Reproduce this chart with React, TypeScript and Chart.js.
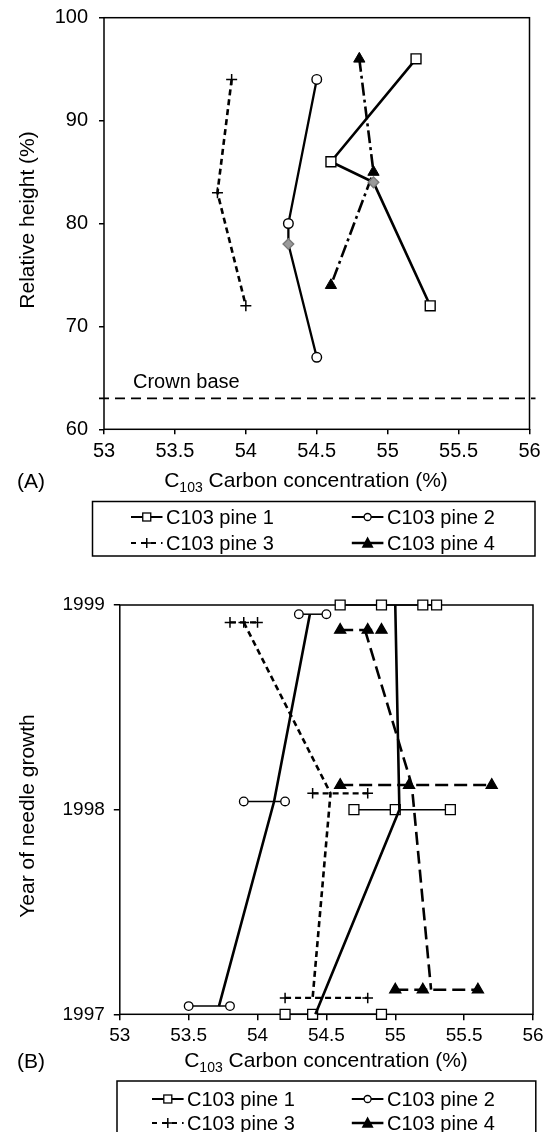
import React, { useEffect, useRef } from 'react';
import { Chart, registerables } from 'chart.js';

Chart.register(...registerables);

const FONT = "'Liberation Sans', Arial, Helvetica, sans-serif";
Chart.defaults.font.family = FONT;
Chart.defaults.color = '#000';

// ---------------- Panel A data ----------------
const xMin = 53;
const xMax = 56;
const xStep = 0.5;
const yMinA = 60;
const yMaxA = 100;
const yStepA = 10;
const crownBase = 63;

const pine1A_x = [55.2, 54.6, 54.9, 55.3];
const pine1A_y = [96, 86, 84, 72];
const pine1A_grey = [false, false, true, false];

const pine2A_x = [54.5, 54.3, 54.3, 54.5];
const pine2A_y = [94, 80, 78, 67];
const pine2A_grey = [false, false, true, false];

const pine3A_x = [53.9, 53.8, 54.0];
const pine3A_y = [94, 83, 72];

const pine4A_x = [54.8, 54.9, 54.6];
const pine4A_y = [96, 85, 74];

// ---------------- Panel B data ----------------
const yMinB = 1997;
const yMaxB = 1999;
const yStepB = 1;

const pine1B_levels = [1999, 1998, 1997];
const pine1B_reps = [[54.6, 54.9, 55.2, 55.3], [54.7, 55.0, 55.4], [54.2, 54.4, 54.9]];
const pine1B_mean = [55.0, 55.03, 54.42];

const pine2B_levels = [1998.955, 1998.04, 1997.04];
const pine2B_reps = [[54.3, 54.5], [53.9, 54.2], [53.5, 53.8]];
const pine2B_mean = [54.38, 54.12, 53.72];

const pine3B_levels = [1998.915, 1998.08, 1997.08];
const pine3B_reps = [[53.8, 53.9, 54.0], [54.4, 54.8], [54.2, 54.8]];
const pine3B_mean = [53.9, 54.53, 54.4];

const pine4B_levels = [1998.878, 1998.12, 1997.12];
const pine4B_reps = [[54.6, 54.8, 54.9], [54.6, 55.1, 55.7], [55.0, 55.2, 55.6]];
const pine4B_mean = [54.78, 55.12, 55.26];

const legendLabels = ['C103 pine 1', 'C103 pine 2', 'C103 pine 3', 'C103 pine 4'];
const xTitleRest = ' Carbon concentration (%)';
const yTitleA = 'Relative height (%)';
const yTitleB = 'Year of needle growth';

// ---------------- helpers ----------------
type Marker = 'rect' | 'circle' | 'cross' | 'triangle';

const zip = (xs: number[], ys: number[]) => xs.map((x, i) => ({ x, y: ys[i] }));

function drawMarker(ctx: CanvasRenderingContext2D, kind: Marker, x: number, y: number, size: number) {
  ctx.save();
  ctx.setLineDash([]);
  ctx.lineWidth = 1.3;
  ctx.strokeStyle = '#000';
  if (kind === 'rect') {
    ctx.fillStyle = '#fff';
    ctx.fillRect(x - size / 2, y - size / 2, size, size);
    ctx.strokeRect(x - size / 2, y - size / 2, size, size);
  } else if (kind === 'circle') {
    ctx.beginPath();
    ctx.arc(x, y, size / 2, 0, Math.PI * 2);
    ctx.fillStyle = '#fff';
    ctx.fill();
    ctx.stroke();
  } else if (kind === 'cross') {
    ctx.lineWidth = 1.5;
    ctx.beginPath();
    ctx.moveTo(x - size / 2, y);
    ctx.lineTo(x + size / 2, y);
    ctx.moveTo(x, y - size / 2);
    ctx.lineTo(x, y + size / 2);
    ctx.stroke();
  } else {
    ctx.beginPath();
    ctx.moveTo(x, y - size * 0.55);
    ctx.lineTo(x + size / 2, y + size * 0.4);
    ctx.lineTo(x - size / 2, y + size * 0.4);
    ctx.closePath();
    ctx.fillStyle = '#000';
    ctx.fill();
  }
  ctx.restore();
}

const legendStyles: { marker: Marker; dash: number[]; width: number; size: number }[] = [
  { marker: 'rect', dash: [], width: 2, size: 8 },
  { marker: 'circle', dash: [], width: 2, size: 7 },
  { marker: 'cross', dash: [5, 5], width: 2, size: 10 },
  { marker: 'triangle', dash: [14, 4], width: 2.5, size: 12 },
];

function drawLegend(
  ctx: CanvasRenderingContext2D,
  box: { l: number; t: number; r: number; b: number },
  rows: number[],
  samples: [number, number][],
  textX: number[]
) {
  ctx.save();
  ctx.strokeStyle = '#000';
  ctx.lineWidth = 1.5;
  ctx.setLineDash([]);
  ctx.strokeRect(box.l, box.t, box.r - box.l, box.b - box.t);
  legendLabels.forEach((label, i) => {
    const col = i % 2;
    const row = Math.floor(i / 2);
    const st = legendStyles[i];
    const y = rows[row];
    const [s0, s1] = samples[col];
    ctx.save();
    ctx.lineWidth = st.width;
    ctx.setLineDash(st.dash);
    ctx.beginPath();
    ctx.moveTo(s0, y);
    ctx.lineTo(s1, y);
    ctx.stroke();
    ctx.restore();
    drawMarker(ctx, st.marker, (s0 + s1) / 2, y, st.size);
    ctx.fillStyle = '#000';
    ctx.font = `20px ${FONT}`;
    ctx.textAlign = 'left';
    ctx.textBaseline = 'middle';
    ctx.fillText(label, textX[col], y + 1);
  });
  ctx.restore();
}

function drawCarbonTitle(ctx: CanvasRenderingContext2D, cx: number, cy: number) {
  ctx.save();
  ctx.fillStyle = '#000';
  ctx.textBaseline = 'middle';
  ctx.textAlign = 'left';
  ctx.font = `21px ${FONT}`;
  const wC = ctx.measureText('C').width;
  const wR = ctx.measureText(xTitleRest).width;
  ctx.font = `14px ${FONT}`;
  const wS = ctx.measureText('103').width;
  let x = cx - (wC + wS + wR) / 2;
  ctx.font = `21px ${FONT}`;
  ctx.fillText('C', x, cy);
  x += wC;
  ctx.font = `14px ${FONT}`;
  ctx.fillText('103', x, cy + 7);
  x += wS;
  ctx.font = `21px ${FONT}`;
  ctx.fillText(xTitleRest, x, cy);
  ctx.restore();
}

function drawVerticalTitle(ctx: CanvasRenderingContext2D, text: string, cx: number, cy: number) {
  ctx.save();
  ctx.translate(cx, cy);
  ctx.rotate(-Math.PI / 2);
  ctx.fillStyle = '#000';
  ctx.font = `21px ${FONT}`;
  ctx.textAlign = 'center';
  ctx.textBaseline = 'middle';
  ctx.fillText(text, 0, 0);
  ctx.restore();
}

function drawText(ctx: CanvasRenderingContext2D, text: string, x: number, y: number, size: number) {
  ctx.save();
  ctx.fillStyle = '#000';
  ctx.font = `${size}px ${FONT}`;
  ctx.textAlign = 'left';
  ctx.textBaseline = 'middle';
  ctx.fillText(text, x, y);
  ctx.restore();
}

function frameRect(chart: any) {
  const { ctx, chartArea: a } = chart;
  ctx.save();
  ctx.strokeStyle = '#000';
  ctx.lineWidth = 1.5;
  ctx.setLineDash([]);
  ctx.strokeRect(a.left, a.top, a.right - a.left, a.bottom - a.top);
  ctx.restore();
}

function axisCfg(
  min: number,
  max: number,
  step: number,
  tickLen: number,
  pad: number,
  fontSize: number,
  fit: (s: any) => void,
  fmt: (v: number) => string
) {
  return {
    type: 'linear' as const,
    min,
    max,
    afterFit: (s: any) => {
      fit(s);
      s.paddingTop = 0;
      s.paddingBottom = 0;
      s.paddingLeft = 0;
      s.paddingRight = 0;
    },
    ticks: {
      stepSize: step,
      autoSkip: false,
      maxRotation: 0,
      padding: pad,
      color: '#000',
      font: { size: fontSize, family: FONT },
      callback: (v: any) => fmt(Number(v)),
    },
    grid: {
      display: true,
      drawOnChartArea: false,
      drawTicks: true,
      tickLength: tickLen,
      color: '#000',
      lineWidth: 1.5,
    },
    border: { display: false },
  };
}

const fmtX = (v: number) => String(Math.round(v * 10) / 10);
const fmtInt = (v: number) => String(Math.round(v));

// ---------------- configs ----------------
function configA(): any {
  const ptStyle = (grey: boolean[], base: string) => grey.map((g) => (g ? 'rectRot' : base));
  const ptRadius = (grey: boolean[], base: number) => grey.map((g) => (g ? 5.3 : base));
  const ptBg = (grey: boolean[]) => grey.map((g) => (g ? '#9a9a9a' : '#fff'));
  const ptBorder = (grey: boolean[]) => grey.map((g) => (g ? '#777' : '#000'));

  const datasets = [
    {
      data: zip(pine1A_x, pine1A_y),
      showLine: true,
      borderColor: '#000',
      borderWidth: 2.6,
      pointStyle: ptStyle(pine1A_grey, 'rect'),
      pointRadius: ptRadius(pine1A_grey, 7),
      pointBackgroundColor: ptBg(pine1A_grey),
      pointBorderColor: ptBorder(pine1A_grey),
      pointBorderWidth: 1.4,
      clip: false,
    },
    {
      data: zip(pine2A_x, pine2A_y),
      showLine: true,
      borderColor: '#000',
      borderWidth: 2.3,
      pointStyle: ptStyle(pine2A_grey, 'circle'),
      pointRadius: ptRadius(pine2A_grey, 4.8),
      pointBackgroundColor: ptBg(pine2A_grey),
      pointBorderColor: ptBorder(pine2A_grey),
      pointBorderWidth: 1.4,
      clip: false,
    },
    {
      data: zip(pine3A_x, pine3A_y),
      showLine: true,
      borderColor: '#000',
      borderWidth: 2.6,
      borderDash: [6, 4],
      pointStyle: 'cross',
      pointRadius: 5.5,
      pointBorderColor: '#000',
      pointBorderWidth: 1.5,
      clip: false,
    },
    {
      data: zip(pine4A_x, pine4A_y),
      showLine: true,
      borderColor: '#000',
      borderWidth: 2.6,
      borderDash: [13, 4, 3, 4],
      pointStyle: 'triangle',
      pointRadius: 6.5,
      pointBackgroundColor: '#000',
      pointBorderColor: '#000',
      pointBorderWidth: 1,
      clip: false,
    },
  ];

  const plugin = {
    id: 'panelA',
    beforeDatasetsDraw(chart: any) {
      frameRect(chart);
      const { ctx, chartArea: a, scales } = chart;
      const y = scales.y.getPixelForValue(crownBase);
      ctx.save();
      ctx.strokeStyle = '#000';
      ctx.lineWidth = 1.8;
      ctx.setLineDash([10, 6]);
      ctx.beginPath();
      ctx.moveTo(a.left - 5, y);
      ctx.lineTo(a.right + 6, y);
      ctx.stroke();
      ctx.restore();
      drawText(ctx, 'Crown base', a.left + 29, y - 16, 20);
    },
    afterDraw(chart: any) {
      const { ctx } = chart;
      drawVerticalTitle(ctx, yTitleA, 28, 220);
      drawCarbonTitle(ctx, 306, 481);
      drawText(ctx, '(A)', 17, 482, 21);
      drawLegend(ctx, { l: 92.5, t: 501.5, r: 535, b: 556 }, [517, 543], [[131, 162.5], [351.8, 383.4]], [166, 387]);
    },
  };

  return {
    type: 'scatter',
    data: { datasets },
    options: {
      animation: false,
      responsive: false,
      maintainAspectRatio: false,
      layout: { padding: { left: 0, right: 20.5, top: 17.7, bottom: 0 } },
      plugins: { legend: { display: false }, tooltip: { enabled: false } },
      scales: {
        x: axisCfg(xMin, xMax, xStep, 5, 5, 20, (s: any) => { s.height = 570 - 429.3; }, fmtX),
        y: axisCfg(yMinA, yMaxA, yStepA, 5, 11, 20, (s: any) => { s.width = 104; }, fmtInt),
      },
    },
    plugins: [plugin],
  };
}

function configB(): any {
  const pines = [
    { levels: pine1B_levels, reps: pine1B_reps, mean: pine1B_mean, marker: 'rect', radius: 7, bg: '#fff', repWidth: 1.5, repDash: [] as number[], meanDash: [] as number[] },
    { levels: pine2B_levels, reps: pine2B_reps, mean: pine2B_mean, marker: 'circle', radius: 4.3, bg: '#fff', repWidth: 1.5, repDash: [] as number[], meanDash: [] as number[] },
    { levels: pine3B_levels, reps: pine3B_reps, mean: pine3B_mean, marker: 'cross', radius: 5.3, bg: '#fff', repWidth: 2.2, repDash: [6, 4], meanDash: [6, 4] },
    { levels: pine4B_levels, reps: pine4B_reps, mean: pine4B_mean, marker: 'triangle', radius: 6.4, bg: '#000', repWidth: 2.5, repDash: [13, 6], meanDash: [13, 6] },
  ];
  const datasets: any[] = [];
  pines.forEach((p) => {
    datasets.push({
      data: p.mean.map((x, i) => ({ x, y: p.levels[i] })),
      showLine: true,
      borderColor: '#000',
      borderWidth: 2.6,
      borderDash: p.meanDash,
      pointRadius: 0,
      clip: false,
    });
    p.reps.forEach((row, i) => {
      datasets.push({
        data: row.map((x) => ({ x, y: p.levels[i] })),
        showLine: true,
        borderColor: '#000',
        borderWidth: p.repWidth,
        borderDash: p.repDash,
        pointStyle: p.marker,
        pointRadius: p.radius,
        pointBackgroundColor: p.bg,
        pointBorderColor: '#000',
        pointBorderWidth: p.marker === 'cross' ? 1.5 : 1.3,
        clip: false,
      });
    });
  });

  const plugin = {
    id: 'panelB',
    beforeDatasetsDraw(chart: any) {
      frameRect(chart);
    },
    afterDraw(chart: any) {
      const { ctx } = chart;
      drawVerticalTitle(ctx, yTitleB, 28, 246);
      drawCarbonTitle(ctx, 326, 491);
      drawText(ctx, '(B)', 17, 492, 21);
      drawLegend(ctx, { l: 117, t: 511, r: 535.8, b: 566 }, [529, 553], [[152, 183.6], [351.8, 383.4]], [187, 387]);
    },
  };

  return {
    type: 'scatter',
    data: { datasets },
    options: {
      animation: false,
      responsive: false,
      maintainAspectRatio: false,
      layout: { padding: { left: 0, right: 17, top: 35, bottom: 0 } },
      plugins: { legend: { display: false }, tooltip: { enabled: false } },
      scales: {
        x: axisCfg(xMin, xMax, xStep, 6, 4, 19, (s: any) => { s.height = 562 - 444.3; }, fmtX),
        y: axisCfg(yMinB, yMaxB, yStepB, 6, 9, 19, (s: any) => { s.width = 119.8; }, fmtInt),
      },
    },
    plugins: [plugin],
  };
}

export default function App() {
  const refA = useRef<HTMLCanvasElement>(null);
  const refB = useRef<HTMLCanvasElement>(null);

  useEffect(() => {
    const a = new Chart(refA.current as HTMLCanvasElement, configA());
    const b = new Chart(refB.current as HTMLCanvasElement, configB());
    return () => {
      a.destroy();
      b.destroy();
    };
  }, []);

  return (
    <div style={{ position: 'absolute', left: 0, top: 0, width: 550, height: 1132, background: '#fff', overflow: 'hidden' }}>
      <canvas ref={refA} width={550} height={570} style={{ position: 'absolute', left: 0, top: 0, width: 550, height: 570 }} />
      <canvas ref={refB} width={550} height={562} style={{ position: 'absolute', left: 0, top: 570, width: 550, height: 562 }} />
    </div>
  );
}
